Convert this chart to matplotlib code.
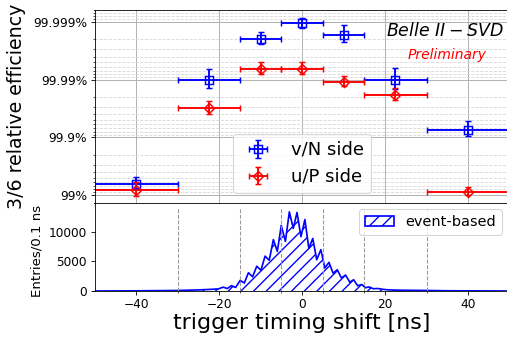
import matplotlib
matplotlib.use("Agg")
import matplotlib.pyplot as plt
from matplotlib.patches import Patch
from matplotlib.ticker import FixedLocator, NullFormatter

# efficiency scan bins (trigger timing shift, ns)
bin_centers = [-40, -22.5, -10, 0, 10, 22.5, 40]
bin_halfwidths = [10, 7.5, 5, 5, 5, 7.5, 10]
bin_edges = [-30, -15, -5, 5, 15, 30]

# inefficiency = 1 - efficiency
ineff_v = [6.4e-3, 1.03e-4, 1.94e-5, 1.06e-5, 1.70e-5, 1.03e-4, 7.4e-4]
ineff_v_err = [1.5e-3, 0.38e-4, 0.45e-5, 0.22e-5, 0.55e-5, 0.40e-4, 2.2e-4]
ineff_u = [8.2e-3, 3.16e-4, 6.5e-5, 6.5e-5, 1.08e-4, 1.85e-4, 8.8e-3]
ineff_u_err = [2.2e-3, 0.8e-4, 1.6e-5, 1.6e-5, 2.3e-5, 0.45e-4, 1.4e-3]

eff_ticks = [1e-2, 1e-3, 1e-4, 1e-5]
eff_labels = ["99%", "99.9%", "99.99%", "99.999%"]

# event-based timing distribution (peaks and dips)
hist_t = [-50, -40, -30, -25, -22, -20.2,
          -19.0, -18.0, -17.0, -16.0, -14.9, -13.9, -12.9, -11.9,
          -10.9, -9.9, -8.9, -7.9, -6.9, -5.95, -5.0, -4.0,
          -3.05, -2.1, -1.2, -0.25, 0.7, 1.65, 2.6, 3.55,
          4.55, 5.5, 6.5, 7.5, 8.5, 9.5, 10.5, 11.5,
          12.45, 13.4, 14.4, 15.3, 16.2, 17.2, 18.3,
          19.5, 21, 24, 30, 35, 50]
hist_n = [0, 30, 90, 180, 280, 350,
          650, 420, 900, 600, 1800, 1350, 3100, 2400,
          4200, 3500, 5900, 5200, 8700, 6700, 11100, 8400,
          13400, 10600, 13300, 9200, 12100, 7200, 8900, 5300,
          7000, 3900, 4850, 3000, 3600, 2200, 2700, 1500,
          1900, 900, 1100, 560, 680, 380, 420,
          280, 180, 130, 90, 40, 0]

plt.rcParams["hatch.linewidth"] = 1.3

fig = plt.figure(figsize=(507 / 76, 344 / 76), dpi=76)
ax = fig.add_axes([94.5 / 507, 141 / 344, 415 / 507, 193 / 344])
ax2 = fig.add_axes([94.5 / 507, 53 / 344, 415 / 507, 88 / 344], sharex=ax)

ax.errorbar(bin_centers, ineff_v, xerr=bin_halfwidths, yerr=ineff_v_err,
            fmt="s", color="blue", mfc="none", ms=7.5, mew=1.4,
            elinewidth=1.8, capsize=2.5, capthick=1.8, label="v/N side")
ax.errorbar(bin_centers, ineff_u, xerr=bin_halfwidths, yerr=ineff_u_err,
            fmt="D", color="red", mfc="none", ms=6.5, mew=1.4,
            elinewidth=1.8, capsize=2.5, capthick=1.8, label="u/P side")

ax.set_yscale("log")
ax.set_ylim(1.38e-2, 6.2e-6)
ax.yaxis.set_major_locator(FixedLocator(eff_ticks))
ax.set_yticklabels(eff_labels)
ax.yaxis.set_minor_formatter(NullFormatter())
ax.grid(which="major", color="#b0b0b0", lw=0.9)
ax.grid(which="minor", axis="y", color="#d8d8d8", ls="--", lw=0.8)
ax.set_xlim(-50, 50)
ax.set_xticks([-40, -20, 0, 20, 40])
ax.xaxis.set_minor_locator(FixedLocator(bin_edges))
ax.tick_params(axis="x", which="major", length=0, labelbottom=False)
ax.tick_params(axis="x", which="minor", length=3.5)
ax.tick_params(axis="y", labelsize=11.5)
ax.set_ylabel("3/6 relative efficiency", fontsize=18)
ax.yaxis.set_label_coords(-0.165, 0.5)
ax.legend(loc="lower left", bbox_to_anchor=(0.334, 0.052), borderaxespad=0,
          fontsize=17)

fig.text(504 / 507, 1 - 31 / 344, r"$Belle\ II - SVD$", ha="right",
         va="center", fontsize=16.5)
fig.text(447.5 / 507, 1 - 54.5 / 344, "Preliminary", color="red",
         style="italic", ha="center", va="center", fontsize=13.2)

ax2.fill_between(hist_t, hist_n, facecolor="none", edgecolor="blue",
                 hatch="//", lw=0)
ax2.plot(hist_t, hist_n, color="blue", lw=1.6)
for e in bin_edges:
    ax2.axvline(e, ymax=0.94, color="#999999", ls="--", lw=1.0)
ax2.set_ylim(0, 14900)
ax2.set_yticks([0, 5000, 10000])
ax2.set_xticks([-40, -20, 0, 20, 40])
ax2.tick_params(labelsize=11.5)
ax2.set_ylabel("Entries/0.1 ns", fontsize=12.7)
ax2.yaxis.set_label_coords(-0.122, 0.45)
ax2.set_xlabel("trigger timing shift [ns]", fontsize=21)
ax2.xaxis.set_label_coords(0.5, -0.25)

h = Patch(facecolor="none", edgecolor="blue", hatch="//", lw=1.6,
          label="event-based")
ax2.legend(handles=[h], loc="upper right", bbox_to_anchor=(0.982, 0.932),
           borderaxespad=0, fontsize=13.7)

fig.savefig("out.png", dpi=76)
